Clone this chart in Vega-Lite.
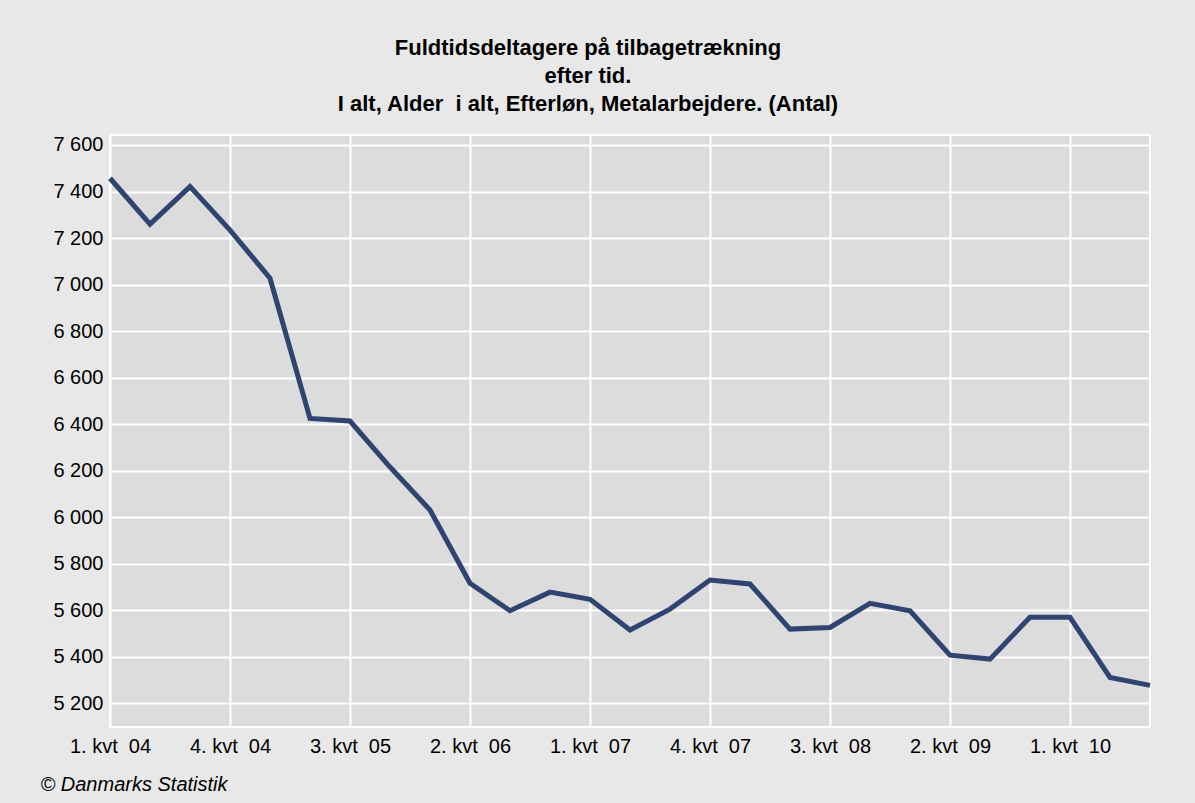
{
  "$schema": "https://vega.github.io/schema/vega-lite/v6.json",
  "width": 1040,
  "height": 592,
  "autosize": {"type": "none"},
  "padding": {"left": 110, "top": 135, "right": 45, "bottom": 76},
  "background": "#e8e8e8",
  "config": {
    "locale": {"number": {"decimal": ",", "thousands": " ", "grouping": [3], "currency": ["", " kr."]}},
    "view": {"fill": "#dcdcdc", "stroke": "#ffffff", "strokeWidth": 2},
    "font": "Liberation Sans"
  },
  "title": {
    "text": ["Fuldtidsdeltagere på tilbagetrækning", "efter tid.", "I alt, Alder\u00a0 i alt, Efterløn, Metalarbejdere. (Antal)"],
    "anchor": "middle",
    "dx": -42,
    "offset": 19,
    "fontSize": 22,
    "lineHeight": 28,
    "fontWeight": "bold",
    "font": "Liberation Sans",
    "color": "#000000"
  },
  "data": {
    "values": [
      {"kvartal": "1. kvt\u00a0 04", "antal": 7457},
      {"kvartal": "2. kvt\u00a0 04", "antal": 7260},
      {"kvartal": "3. kvt\u00a0 04", "antal": 7421},
      {"kvartal": "4. kvt\u00a0 04", "antal": 7234},
      {"kvartal": "1. kvt\u00a0 05", "antal": 7027},
      {"kvartal": "2. kvt\u00a0 05", "antal": 6424},
      {"kvartal": "3. kvt\u00a0 05", "antal": 6413},
      {"kvartal": "4. kvt\u00a0 05", "antal": 6215},
      {"kvartal": "1. kvt\u00a0 06", "antal": 6030},
      {"kvartal": "2. kvt\u00a0 06", "antal": 5715},
      {"kvartal": "3. kvt\u00a0 06", "antal": 5597},
      {"kvartal": "4. kvt\u00a0 06", "antal": 5677},
      {"kvartal": "1. kvt\u00a0 07", "antal": 5646},
      {"kvartal": "2. kvt\u00a0 07", "antal": 5514},
      {"kvartal": "3. kvt\u00a0 07", "antal": 5604},
      {"kvartal": "4. kvt\u00a0 07", "antal": 5729},
      {"kvartal": "1. kvt\u00a0 08", "antal": 5712},
      {"kvartal": "2. kvt\u00a0 08", "antal": 5518},
      {"kvartal": "3. kvt\u00a0 08", "antal": 5525},
      {"kvartal": "4. kvt\u00a0 08", "antal": 5629},
      {"kvartal": "1. kvt\u00a0 09", "antal": 5597},
      {"kvartal": "2. kvt\u00a0 09", "antal": 5406},
      {"kvartal": "3. kvt\u00a0 09", "antal": 5389},
      {"kvartal": "4. kvt\u00a0 09", "antal": 5569},
      {"kvartal": "1. kvt\u00a0 10", "antal": 5569},
      {"kvartal": "2. kvt\u00a0 10", "antal": 5310},
      {"kvartal": "3. kvt\u00a0 10", "antal": 5276}
    ]
  },
  "mark": {"type": "line", "color": "#2f4470", "strokeWidth": 5, "strokeJoin": "miter"},
  "encoding": {
    "x": {
      "field": "kvartal",
      "type": "ordinal",
      "sort": null,
      "scale": {"type": "point", "padding": 0},
      "axis": {
        "values": ["1. kvt\u00a0 04", "4. kvt\u00a0 04", "3. kvt\u00a0 05", "2. kvt\u00a0 06", "1. kvt\u00a0 07", "4. kvt\u00a0 07", "3. kvt\u00a0 08", "2. kvt\u00a0 09", "1. kvt\u00a0 10"],
        "labelAngle": 0,
        "labelFont": "Liberation Sans",
        "labelFontSize": 20,
        "labelColor": "#000000",
        "labelPadding": 9,
        "tickSize": 0,
        "domain": false,
        "grid": true,
        "gridColor": "#ffffff",
        "gridWidth": 2,
        "title": "© Danmarks Statistik",
        "titleAnchor": "start",
        "titleAlign": "left",
        "titleX": -70,
        "titleY": 47,
        "titleFont": "Liberation Sans",
        "titleFontSize": 20,
        "titleFontStyle": "italic",
        "titleFontWeight": "normal",
        "titleColor": "#000000"
      }
    },
    "y": {
      "field": "antal",
      "type": "quantitative",
      "scale": {"domain": [5097, 7643], "nice": false, "zero": false},
      "axis": {
        "values": [5200, 5400, 5600, 5800, 6000, 6200, 6400, 6600, 6800, 7000, 7200, 7400, 7600],
        "format": ",d",
        "labelFont": "Liberation Sans",
        "labelFontSize": 20,
        "labelColor": "#000000",
        "labelPadding": 7,
        "tickSize": 0,
        "domain": false,
        "grid": true,
        "gridColor": "#ffffff",
        "gridWidth": 2,
        "title": null
      }
    }
  }
}
